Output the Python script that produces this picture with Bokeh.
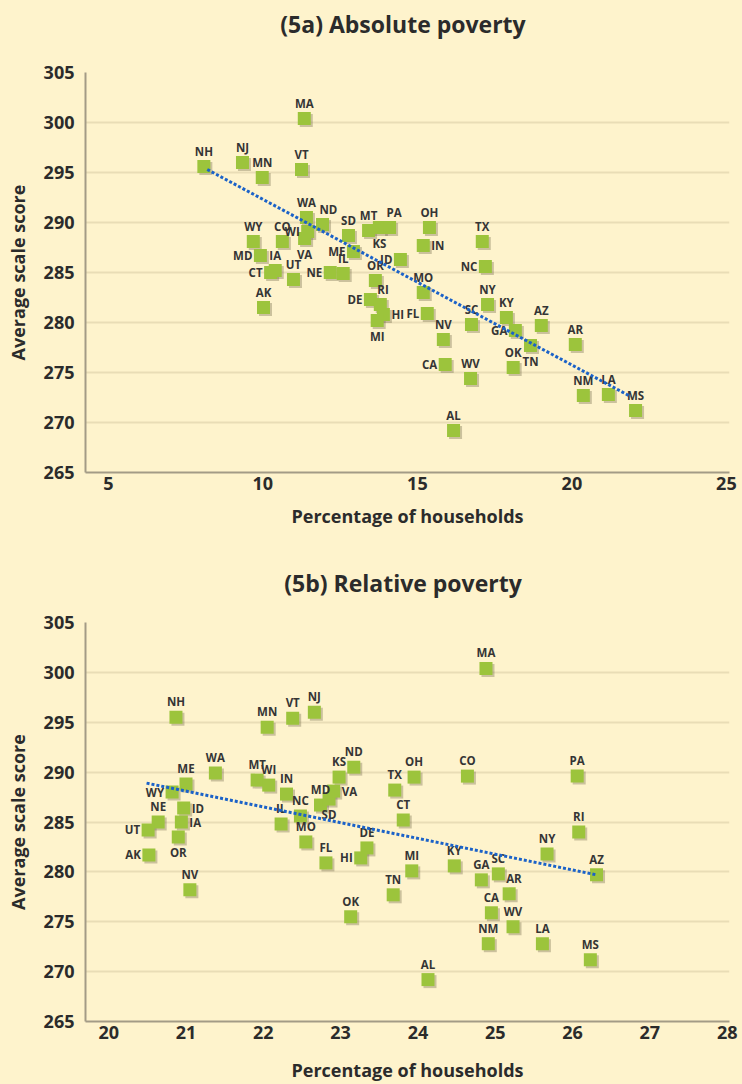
import numpy as np
from bokeh.plotting import figure
from bokeh.layouts import column
from bokeh.models import ColumnDataSource, Range1d, FixedTicker, Div
from bokeh.core.properties import value
from bokeh.transform import dodge
from bokeh.embed import file_html
from bokeh.resources import INLINE

# ---------------- data ----------------
states = ["AL", "AK", "AZ", "AR", "CA", "CO", "CT", "DE", "FL", "GA",
          "HI", "ID", "IL", "IN", "IA", "KS", "KY", "LA", "ME", "MD",
          "MA", "MI", "MN", "MS", "MO", "MT", "NE", "NV", "NH", "NJ",
          "NM", "NY", "NC", "ND", "OH", "OK", "OR", "PA", "RI", "SC",
          "SD", "TN", "TX", "UT", "VT", "VA", "WA", "WV", "WI", "WY"]

# (5a) Absolute poverty: percentage of households / average scale score
abs_pct = [16.17, 10.02, 19.01, 20.11, 15.90, 10.63, 10.25, 13.48, 15.32, 18.17,
           13.90, 14.45, 12.60, 15.19, 10.40, 13.77, 17.88, 21.18, 12.93, 9.92,
           11.34, 13.70, 9.98, 22.06, 15.19, 13.42, 12.18, 15.84, 8.09, 9.34,
           20.37, 17.27, 17.20, 11.93, 15.39, 18.10, 13.64, 14.10, 13.80, 16.75,
           12.77, 18.66, 17.10, 10.99, 11.25, 11.35, 11.41, 16.72, 11.45, 9.69]
abs_score = [269.2, 281.5, 279.7, 277.8, 275.8, 288.1, 285.0, 282.3, 280.9, 279.2,
             280.8, 286.3, 284.9, 287.7, 285.2, 289.5, 280.5, 272.8, 287.1, 286.7,
             300.4, 280.2, 294.5, 271.2, 283.0, 289.2, 285.0, 278.3, 295.6, 296.0,
             272.7, 281.8, 285.6, 289.8, 289.5, 275.5, 284.2, 289.5, 281.8, 279.8,
             288.7, 277.7, 288.1, 284.3, 295.3, 288.4, 290.5, 274.4, 289.1, 288.1]
# trend line of (5a), read at its two ends
abs_trend_x = [8.20, 21.90]
abs_trend_y = [295.3, 272.6]

# (5b) Relative poverty: percentage of households / average scale score
rel_pct = [24.13, 20.52, 26.31, 25.18, 24.95, 24.64, 23.81, 23.34, 22.81, 24.82,
           23.26, 20.97, 22.23, 22.30, 20.94, 22.98, 24.47, 25.61, 21.00, 22.74,
           24.88, 23.92, 22.05, 26.23, 22.55, 21.92, 20.64, 21.05, 20.87, 22.66,
           24.91, 25.67, 22.48, 23.17, 23.95, 23.13, 20.90, 26.06, 26.08, 25.04,
           22.85, 23.68, 23.70, 20.51, 22.38, 22.91, 21.38, 25.23, 22.07, 20.82]
rel_score = [269.2, 281.7, 279.7, 277.8, 275.9, 289.6, 285.2, 282.4, 280.9, 279.2,
             281.4, 286.4, 284.8, 287.8, 285.0, 289.5, 280.6, 272.8, 288.8, 286.7,
             300.4, 280.1, 294.5, 271.2, 283.0, 289.2, 285.0, 278.2, 295.5, 296.0,
             272.8, 281.8, 285.6, 290.5, 289.5, 275.5, 283.5, 289.6, 284.0, 279.8,
             287.3, 277.7, 288.2, 284.2, 295.4, 288.1, 289.9, 274.5, 288.7, 288.0]
# trend line of (5b), read at its two ends
rel_trend_x = [20.49, 26.31]
rel_trend_y = [288.9, 279.7]

abs_xticks = [5, 10, 15, 20, 25]
rel_xticks = [20, 21, 22, 23, 24, 25, 26, 27, 28]
y_ticks = [265, 270, 275, 280, 285, 290, 295, 300, 305]

titles = ["(5a) Absolute poverty", "(5b) Relative poverty"]
x_title = "Percentage of households"
y_title = "Average scale score"

# label placement (layout only; default is "above")
place_abs = {"MD": "left", "CT": "left", "NE": "left", "ME": "left", "WI": "left",
             "VA": "below", "KS": "below", "IN": "right", "ID": "left", "DE": "left",
             "HI": "right", "MI": "below", "FL": "left", "CA": "left", "NC": "left",
             "GA": "left", "TN": "below", "ND": "aright", "PA": "aright", "RI": "aright"}
place_rel = {"WY": "left", "UT": "left", "AK": "left", "ID": "right", "IA": "right",
             "OR": "below", "HI": "left", "VA": "right", "SD": "below", "AR": "aright"}

# ---------------- style ----------------
BG = "#FEF3CC"
GRID = "#E9DDB6"
AXIS = "#A39B86"
GREEN = "#9CC43C"
TXT = "#2B2B2B"
FONT = "Open Sans"
FRAME_W = 644

OFFS = {
    "above": (0, -8, "center", "bottom"),
    "below": (0, 8, "center", "top"),
    "left": (-8, 0, "right", "middle"),
    "right": (8, 0, "left", "middle"),
    "aright": (-3, -8, "left", "bottom"),
}


def title_div(text, h):
    html = ('<div style="box-sizing:border-box;width:742px;padding-left:64px;'
            'text-align:center;font-family:\'Open Sans\';font-weight:bold;'
            'font-size:23px;color:%s;line-height:%dpx;">%s</div>' % (TXT, h, text))
    return Div(text=html, width=742, height=h, margin=(0, 0, 0, 0),
               styles={"background-color": BG})


def make_chart(xs, ys, tx, ty, xr, xticks, places, height, top, bottom,
               xlabel_standoff):
    p = figure(width=742, height=height, x_range=Range1d(*xr), y_range=Range1d(265, 305),
               output_backend="svg", toolbar_location=None,
               min_border_left=85, min_border_right=13,
               min_border_top=top, min_border_bottom=bottom,
               background_fill_color=BG, border_fill_color=BG,
               outline_line_color=None, margin=(0, 0, 0, 0))

    p.xgrid.visible = False
    p.ygrid.grid_line_color = GRID
    p.ygrid.grid_line_width = 2
    p.ygrid.ticker = FixedTicker(ticks=y_ticks)

    p.xaxis.ticker = FixedTicker(ticks=xticks)
    p.yaxis.ticker = FixedTicker(ticks=y_ticks)
    for ax in (p.xaxis[0], p.yaxis[0]):
        ax.axis_line_color = AXIS
        ax.axis_line_width = 2
        ax.major_tick_line_color = None
        ax.minor_tick_line_color = None
        ax.major_tick_out = 0
        ax.major_tick_in = 0
        ax.major_label_text_font = FONT
        ax.major_label_text_font_size = "18px"
        ax.major_label_text_font_style = "bold"
        ax.major_label_text_color = TXT
        ax.axis_label_text_font = FONT
        ax.axis_label_text_font_size = "18px"
        ax.axis_label_text_font_style = "bold"
        ax.axis_label_text_color = TXT
    p.xaxis.axis_label = x_title
    p.yaxis.axis_label = y_title
    p.xaxis.major_label_standoff = 4
    p.xaxis.axis_label_standoff = xlabel_standoff
    p.yaxis.major_label_standoff = 11
    p.yaxis.axis_label_standoff = 11

    xo, yo, al, bl = [], [], [], []
    for s in states:
        a, b, c, d = OFFS[places.get(s, "above")]
        xo.append(a); yo.append(b); al.append(c); bl.append(d)
    src = ColumnDataSource(dict(x=xs, y=ys, s=states, xo=xo, yo=yo, al=al, bl=bl))

    span = xr[1] - xr[0]
    dx = 2.0 * span / FRAME_W
    dy = 2.0 * 40.0 / 400.0
    p.scatter(x=dodge("x", dx, range=p.x_range), y=dodge("y", -dy, range=p.y_range),
              source=src, marker="square", size=13, fill_color="#6E6446",
              fill_alpha=0.35, line_color=None)
    p.scatter(x="x", y="y", source=src, marker="square", size=13,
              fill_color=GREEN, line_color=None)

    p.text(x="x", y="y", text="s", source=src, x_offset="xo", y_offset="yo",
           text_align="al", text_baseline="bl", text_font=value(FONT),
           text_font_size="11.5px", text_font_style="bold", text_color="#353535")

    p.line(tx, ty, line_color="#1B62C8", line_width=3, line_dash="3 2")
    return p


d1 = title_div(titles[0], 48)
p1 = make_chart(abs_pct, abs_score, abs_trend_x, abs_trend_y,
                (4.26, 25.1), abs_xticks, place_abs, 508, 24, 84, 11)
d2 = title_div(titles[1], 54)
p2 = make_chart(rel_pct, rel_score, rel_trend_x, rel_trend_y,
                (19.70, 28.03), rel_xticks, place_rel, 474, 12, 62, 16)

layout = column(d1, p1, d2, p2, spacing=0)
layout.styles = {"background-color": BG}
open("out.html", "w").write(file_html(layout, INLINE))
